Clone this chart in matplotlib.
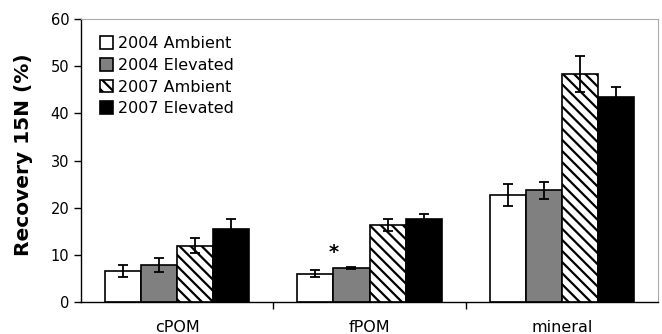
import matplotlib
matplotlib.use("Agg")
import matplotlib.pyplot as plt
import numpy as np

categories = ["cPOM", "fPOM", "mineral"]
series = ["2004 Ambient", "2004 Elevated", "2007 Ambient", "2007 Elevated"]
values = {
    "2004 Ambient": [6.6, 6.0, 22.7],
    "2004 Elevated": [7.8, 7.2, 23.7],
    "2007 Ambient": [11.9, 16.3, 48.4],
    "2007 Elevated": [15.5, 17.5, 43.4],
}
errors = {
    "2004 Ambient": [1.3, 0.8, 2.3],
    "2004 Elevated": [1.5, 0.3, 1.8],
    "2007 Ambient": [1.6, 1.2, 3.8],
    "2007 Elevated": [2.1, 1.1, 2.2],
}
yticks = [0, 10, 20, 30, 40, 50, 60]

plt.rcParams['hatch.linewidth'] = 1.6
fig = plt.figure(figsize=(6.62, 3.34), dpi=100)
ax = fig.add_axes([0.1224, 0.0958, 0.994 - 0.1224, 0.943 - 0.0958])

styles = [
    dict(facecolor="white", hatch=None),
    dict(facecolor="#808080", hatch=None),
    dict(facecolor="white", hatch="\\\\\\"),
    dict(facecolor="black", hatch=None),
]
x = np.arange(len(categories))
w = 0.1875
for i, s in enumerate(series):
    pos = x - 1.5 * w + i * w
    ax.bar(pos, values[s], w, yerr=errors[s], label=s,
           facecolor=styles[i]["facecolor"], hatch=styles[i]["hatch"],
           edgecolor="black", linewidth=1.2,
           error_kw=dict(ecolor="black", elinewidth=1.3, capsize=3.5, capthick=1.3))

# significance asterisk on fPOM 2004 pair
ax.text(1 - w, 10.6, "*", ha="center", va="center", fontsize=14, fontweight="bold")

ax.set_xlim(-0.5, 2.5)
ax.set_ylim(0, 60)
ax.set_yticks(yticks)
ax.set_xticks([0.5, 1.5])
ax.set_xticklabels([])
ax.tick_params(axis="x", length=5, direction="out", width=1)
ax.tick_params(axis="y", length=5, direction="out", width=1, labelsize=10.5)
for i, c in enumerate(categories):
    ax.text(i, -6.3, c, ha="center", va="baseline", fontsize=11.5)
ax.spines["top"].set_color("#aaaaaa")
ax.spines["right"].set_color("#aaaaaa")
ax.spines["left"].set_linewidth(1.0)
ax.spines["bottom"].set_linewidth(1.0)
ax.set_ylabel("Recovery 15N (%)", fontsize=14.5, fontweight="bold")
ax.yaxis.set_label_coords(-0.083, 0.52)

leg = ax.legend(loc="upper left", bbox_to_anchor=(0.021, 0.962), frameon=False,
                fontsize=11.5, handlelength=0.85, handleheight=0.85,
                handletextpad=0.3, labelspacing=0.42, borderaxespad=0)
fig.savefig("out.png", dpi=100)
